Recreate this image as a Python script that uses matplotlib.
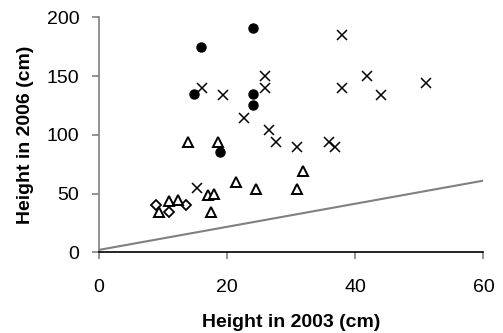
import matplotlib
matplotlib.use("Agg")
import matplotlib.pyplot as plt

# Data
circles_x = [15.9, 24.0, 14.9, 24.0, 24.0, 19.0]
circles_y = [175, 191, 135, 135, 125, 85]

crosses_x = [16.1, 19.4, 25.9, 25.9, 22.6, 26.5, 27.6, 30.9, 15.4,
             38.0, 41.9, 38.0, 44.0, 51.1, 35.9, 36.9]
crosses_y = [140, 134, 150, 139.5, 114, 104, 94, 90, 54.5,
             185, 150, 140, 134, 144, 94, 90]

triangles_x = [13.9, 18.6, 21.4, 24.6, 30.9, 31.9, 17.0, 18.0, 17.6, 9.4, 11.0, 12.4]
triangles_y = [94, 94, 60, 54, 54, 69.5, 48.5, 50, 34.6, 34, 44, 44.5]

diamonds_x = [8.9, 11.0, 13.7]
diamonds_y = [40.5, 34, 40.5]

line_x = [0, 60]
line_y = [2, 61]

x_ticks = [0, 20, 40, 60]
y_ticks = [0, 50, 100, 150, 200]

plt.rcParams['font.family'] = ['Liberation Sans', 'DejaVu Sans']

fig = plt.figure(figsize=(5.03, 3.33), dpi=100)
ax = fig.add_axes([0.196, 0.2423, 0.765, 0.7057])

ax.plot(line_x, line_y, color='#808080', lw=1.5, zorder=1)

ax.plot(diamonds_x, diamonds_y, linestyle='none', marker='D', ms=5.5,
        mfc='white', mec='black', mew=1.3, zorder=2)
ax.plot(triangles_x, triangles_y, linestyle='none', marker='^', ms=7,
        mfc='white', mec='black', mew=1.4, zorder=3)
ax.plot(circles_x, circles_y, linestyle='none', marker='o', ms=6.5,
        mfc='black', mec='black', zorder=4)
ax.plot(crosses_x, crosses_y, linestyle='none', marker='x', ms=7,
        color='black', mew=1.1, zorder=5)

ax.set_xlim(0, 60)
ax.set_ylim(0, 200)
ax.set_xticks(x_ticks)
ax.set_yticks(y_ticks)

for s in ['top', 'right']:
    ax.spines[s].set_visible(False)
ax.spines['left'].set_color('#808080')
ax.spines['bottom'].set_color('black')
ax.spines['left'].set_linewidth(1.2)
ax.spines['bottom'].set_linewidth(1.2)

ax.tick_params(axis='x', direction='out', length=5, width=1.2, color='#808080',
               labelsize=14, pad=14)
ax.tick_params(axis='y', direction='out', length=5, width=1.2, color='#808080',
               labelsize=14, pad=9)

ax.set_xlabel('Height in 2003 (cm)', fontsize=14, fontweight='bold', labelpad=13)
ax.set_ylabel('Height in 2006 (cm)', fontsize=14, fontweight='bold', labelpad=9)

fig.savefig('out.png', dpi=100)
